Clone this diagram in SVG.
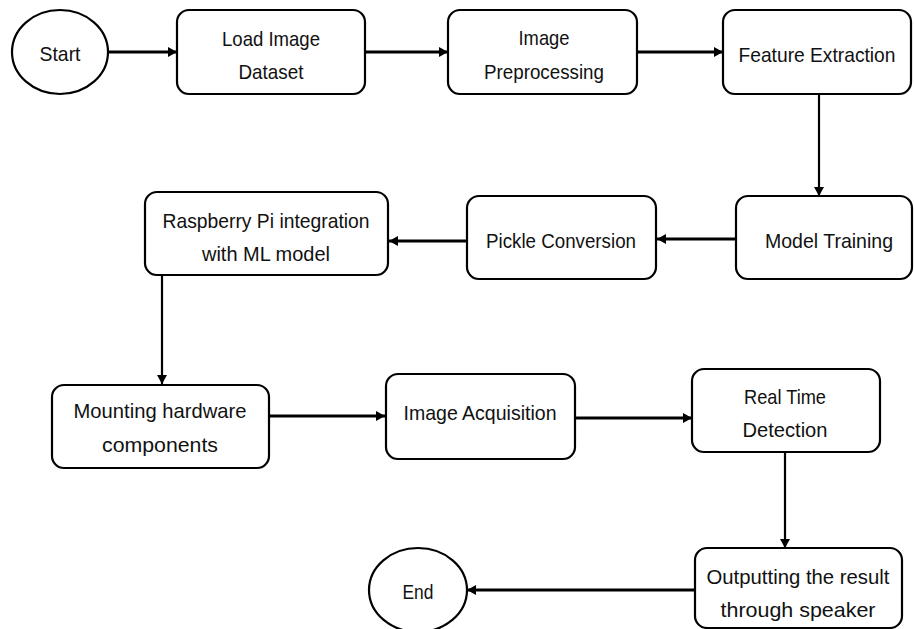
<svg xmlns="http://www.w3.org/2000/svg" width="914" height="629" viewBox="0 0 914 629">
  <defs>
    <marker id="ah" markerUnits="userSpaceOnUse" markerWidth="9" markerHeight="10" refX="9" refY="5" orient="auto">
      <path d="M0,0 L9,5 L0,10 z" fill="#000"/>
    </marker>
    <style>
      .box { fill: #fff; stroke: #000; stroke-width: 2.2; }
      .term { fill: #fff; stroke: #000; stroke-width: 2.2; }
      .lbl { font-family: "Liberation Sans", Arial, sans-serif; font-size: 21px; fill: #111; text-anchor: middle; }
      .h { fill: none; stroke: #000; stroke-width: 3.2; marker-end: url(#ah); }
      .v { fill: none; stroke: #000; stroke-width: 2.2; marker-end: url(#ah); }
    </style>
  </defs>
  <rect width="914" height="629" fill="#fff"/>

  <g id="connectors">
    <line class="h" x1="109" y1="52" x2="177" y2="52"/>
    <line class="h" x1="366" y1="52" x2="448" y2="52"/>
    <line class="h" x1="638" y1="52" x2="723" y2="52"/>
    <line class="v" x1="819" y1="94" x2="819" y2="196"/>
    <line class="h" x1="736" y1="239" x2="657" y2="239"/>
    <line class="h" x1="467" y1="241" x2="389" y2="241"/>
    <line class="v" x1="162" y1="276" x2="162" y2="384"/>
    <line class="h" x1="270" y1="416" x2="385" y2="416"/>
    <line class="h" x1="575" y1="418" x2="692" y2="418"/>
    <line class="v" x1="785" y1="452" x2="785" y2="548"/>
    <line class="h" x1="695" y1="590" x2="467" y2="590"/>
  </g>

  <g id="start">
    <ellipse class="term" cx="60" cy="52" rx="48" ry="42"/>
    <text class="lbl" x="60" y="61" textLength="41" lengthAdjust="spacingAndGlyphs">Start</text>
  </g>
  <g id="load-image-dataset">
    <rect class="box" x="177" y="10" width="188" height="84" rx="12"/>
    <text class="lbl" x="271" y="46" textLength="98" lengthAdjust="spacingAndGlyphs">Load Image</text>
    <text class="lbl" x="271" y="79" textLength="65" lengthAdjust="spacingAndGlyphs">Dataset</text>
  </g>
  <g id="image-preprocessing">
    <rect class="box" x="448" y="10" width="189" height="84" rx="12"/>
    <text class="lbl" x="544" y="45" textLength="51" lengthAdjust="spacingAndGlyphs">Image</text>
    <text class="lbl" x="544" y="79" textLength="120" lengthAdjust="spacingAndGlyphs">Preprocessing</text>
  </g>
  <g id="feature-extraction">
    <rect class="box" x="723" y="10" width="188" height="84" rx="12"/>
    <text class="lbl" x="817" y="62" textLength="157" lengthAdjust="spacingAndGlyphs">Feature Extraction</text>
  </g>
  <g id="model-training">
    <rect class="box" x="736" y="196" width="176" height="83" rx="12"/>
    <text class="lbl" x="829" y="248" textLength="128" lengthAdjust="spacingAndGlyphs">Model Training</text>
  </g>
  <g id="pickle-conversion">
    <rect class="box" x="467" y="196" width="189" height="83" rx="12"/>
    <text class="lbl" x="561" y="248" textLength="150" lengthAdjust="spacingAndGlyphs">Pickle Conversion</text>
  </g>
  <g id="raspberry-pi-integration">
    <rect class="box" x="145" y="192" width="243" height="83" rx="12"/>
    <text class="lbl" x="266" y="228" textLength="207" lengthAdjust="spacingAndGlyphs">Raspberry Pi integration</text>
    <text class="lbl" x="266" y="261" textLength="128" lengthAdjust="spacingAndGlyphs">with ML model</text>
  </g>
  <g id="mounting-hardware">
    <rect class="box" x="52" y="385" width="217" height="83" rx="12"/>
    <text class="lbl" x="160" y="418" textLength="173" lengthAdjust="spacingAndGlyphs">Mounting hardware</text>
    <text class="lbl" x="160" y="452" textLength="116" lengthAdjust="spacingAndGlyphs">components</text>
  </g>
  <g id="image-acquisition">
    <rect class="box" x="386" y="374" width="189" height="85" rx="12"/>
    <text class="lbl" x="480" y="420" textLength="153" lengthAdjust="spacingAndGlyphs">Image Acquisition</text>
  </g>
  <g id="real-time-detection">
    <rect class="box" x="692" y="369" width="188" height="83" rx="12"/>
    <text class="lbl" x="785" y="404" textLength="82" lengthAdjust="spacingAndGlyphs">Real Time</text>
    <text class="lbl" x="785" y="437" textLength="85" lengthAdjust="spacingAndGlyphs">Detection</text>
  </g>
  <g id="outputting-result">
    <rect class="box" x="695" y="548" width="207" height="80" rx="12"/>
    <text class="lbl" x="798" y="584" textLength="183" lengthAdjust="spacingAndGlyphs">Outputting the result</text>
    <text class="lbl" x="798" y="617" textLength="155" lengthAdjust="spacingAndGlyphs">through speaker</text>
  </g>
  <g id="end">
    <ellipse class="term" cx="418" cy="590" rx="49" ry="42"/>
    <text class="lbl" x="418" y="599" textLength="31" lengthAdjust="spacingAndGlyphs">End</text>
  </g>
</svg>
